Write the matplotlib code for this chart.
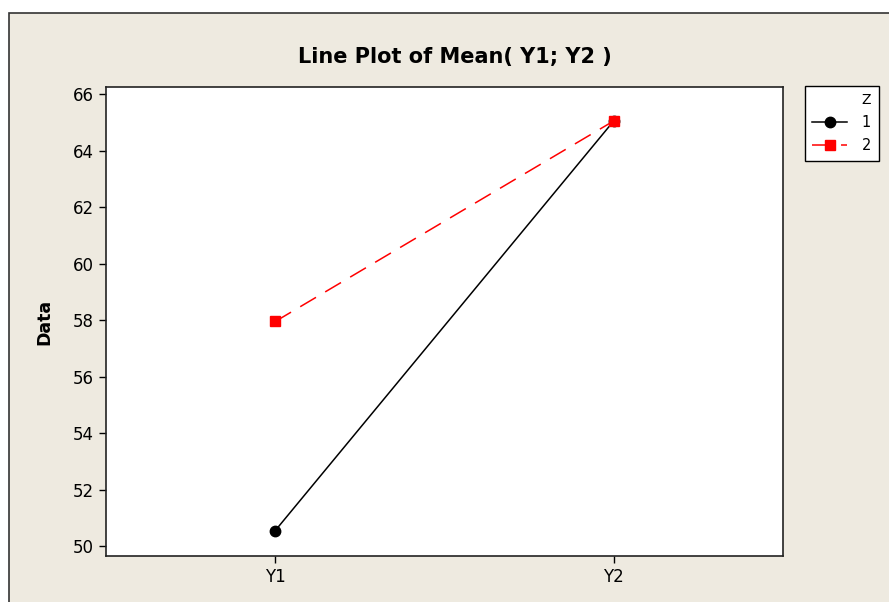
import matplotlib.pyplot as plt
from matplotlib.patches import Rectangle

# mean values
categories = ['Y1', 'Y2']
z1_means = [50.55, 65.05]
z2_means = [57.95, 65.05]
yticks = [50, 52, 54, 56, 58, 60, 62, 64, 66]

W, H = 889, 602
fig = plt.figure(figsize=(W / 100, H / 100), dpi=100, facecolor='white')

# beige frame behind everything
frame = Rectangle((9 / W, -0.01), 1.0, 1 - 13 / H + 0.01, transform=fig.transFigure,
                  facecolor='#EEEAE0', edgecolor='#333333', linewidth=1.2, zorder=-10)
fig.patches.append(frame)

ax = fig.add_axes([106 / W, 1 - 556 / H, (783 - 106) / W, (556 - 87) / H])
ax.set_facecolor('white')

x = list(range(len(categories)))
ax.plot(x, z1_means, color='black', linewidth=1.1, marker='o', markersize=7.5, label='1')
ax.plot(x, z2_means, color='red', linewidth=1.1, linestyle=(0, (12, 7)),
        marker='s', markersize=7.5, label='2')

ax.set_xlim(-0.5, 1.5)
ax.set_ylim(49.65, 66.25)
ax.set_xticks(x)
ax.set_xticklabels(categories)
ax.set_yticks(yticks)
ax.tick_params(direction='out', length=5, width=1, labelsize=12, colors='black')
for s in ax.spines.values():
    s.set_linewidth(1.2)
    s.set_color('#222222')

ax.set_ylabel('Data', fontsize=12.5, fontweight='bold', labelpad=14)
fig.text(455 / W, 1 - 57 / H, 'Line Plot of Mean( Y1; Y2 )', fontsize=15,
         fontweight='bold', ha='center', va='center')

leg = ax.legend(title='Z', loc='upper left', bbox_to_anchor=(805 / W, 1 - 86 / H),
                bbox_transform=fig.transFigure, borderaxespad=0, frameon=True,
                fancybox=False, facecolor='white', framealpha=1, edgecolor='black',
                fontsize=10.5, title_fontsize=10, alignment='right',
                handlelength=2.4, borderpad=0.5, labelspacing=0.55,
                handletextpad=1.0)
leg.get_frame().set_linewidth(1)

fig.savefig('out.png', dpi=100)
